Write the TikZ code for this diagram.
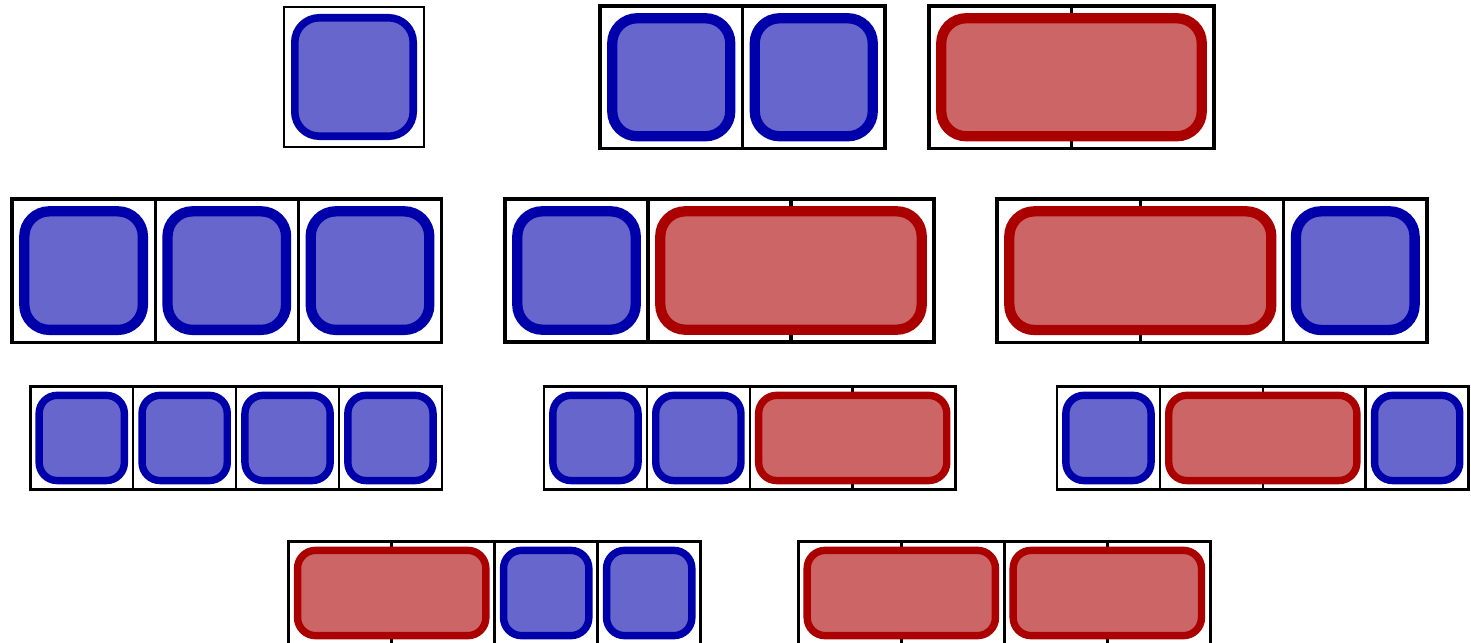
\documentclass[tikz,border=0pt]{standalone}
\usepackage{tikz}
\definecolor{tblue}{HTML}{0000AA}
\definecolor{tred}{HTML}{AA0000}
% board of cells: x, y, cell size, number of cells, frame width
\newcommand{\strip}[5]{%
  \foreach \k in {1,...,#4}
    \draw[line width=#5pt] ({#1+(\k-1)*#3},#2) rectangle ++(#3,#3);}
% tile: [stroke ratio], colour, x, y, cell size, first cell, length
\newcommand{\tile}[7][0.072]{%
  \pgfmathsetmacro\tin{(0.05+#1/2)*#5}
  \draw[#2,fill=#2!60,line width={#1*#5},rounded corners={0.175*#5}]
    ({#3+#6*#5+\tin},{#4+\tin}) rectangle ({#3+(#6+#7)*#5-\tin},{#4+#5-\tin});}

\begin{document}
\begin{tikzpicture}[x=1pt,y=-1pt]
\useasboundingbox (0,0) rectangle (1471,642);
% n = 1, 2
\strip{284}{7}{140}{1}{2.2}
\tile[0.054]{tblue}{284}{7}{140}{0}{1}
\strip{600}{6}{142.5}{2}{3.3}
\foreach \i in {0,1} \tile{tblue}{600}{6}{142.5}{\i}{1};
\strip{929}{6}{142.5}{2}{3.3}
\tile{tred}{929}{6}{142.5}{0}{2}
% n = 3
\strip{12}{199}{143.2}{3}{3.3}
\foreach \i in {0,1,2} \tile{tblue}{12}{199}{143.2}{\i}{1};
\strip{505}{199}{143}{3}{3.3}
\tile{tblue}{505}{199}{143}{0}{1}
\tile{tred}{505}{199}{143}{1}{2}
\strip{997}{199}{143.3}{3}{3.3}
\tile{tred}{997}{199}{143.3}{0}{2}
\tile{tblue}{997}{199}{143.3}{2}{1}
% n = 4
\strip{30.3}{386.5}{102.9}{4}{2.5}
\foreach \i in {0,...,3} \tile{tblue}{30.3}{386.5}{102.9}{\i}{1};
\strip{544}{386.5}{102.9}{4}{2.5}
\foreach \i in {0,1} \tile{tblue}{544}{386.5}{102.9}{\i}{1};
\tile{tred}{544}{386.5}{102.9}{2}{2}
\strip{1057}{386.5}{102.9}{4}{2.5}
\tile{tblue}{1057}{386.5}{102.9}{0}{1}
\tile{tred}{1057}{386.5}{102.9}{1}{2}
\tile{tblue}{1057}{386.5}{102.9}{3}{1}
\strip{288.7}{541.5}{103}{4}{2.5}
\tile{tred}{288.7}{541.5}{103}{0}{2}
\foreach \i in {2,3} \tile{tblue}{288.7}{541.5}{103}{\i}{1};
\strip{798.3}{541.5}{103}{4}{2.5}
\foreach \i in {0,2} \tile{tred}{798.3}{541.5}{103}{\i}{2};
\end{tikzpicture}
\end{document}
